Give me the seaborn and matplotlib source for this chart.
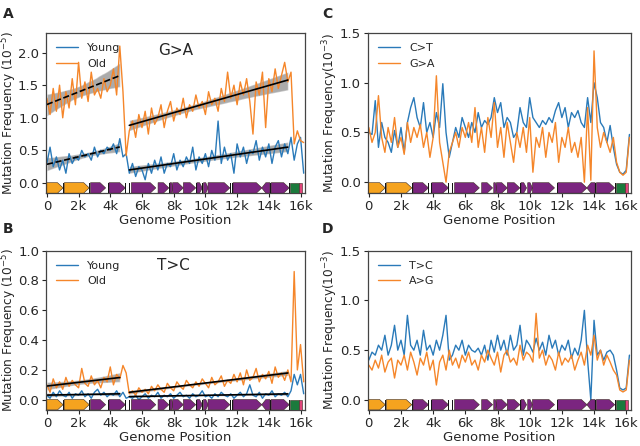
import numpy as np
import pandas as pd
import seaborn as sns
import matplotlib
matplotlib.use("Agg")
import matplotlib.pyplot as plt
from matplotlib.patches import Polygon
from matplotlib.transforms import blended_transform_factory

# genome bins (200 bp)
pos = np.arange(82) * 200

# panel A: G>A, 10^-5
ga_young = [0.30, 0.55, 0.25, 0.40, 0.20, 0.35, 0.15, 0.45, 0.30, 0.40,
            0.35, 0.50, 0.40, 0.45, 0.35, 0.55, 0.40, 0.50, 0.45, 0.55,
            0.50, 0.60, 0.45, 0.68, 0.40, 0.45, 0.15, 0.30, 0.10, 0.25,
            0.20, 0.05, 0.30, 0.15, 0.35, 0.20, 0.40, 0.15, 0.30, 0.25,
            0.45, 0.20, 0.35, 0.25, 0.40, 0.30, 0.55, 0.20, 0.40, 0.30,
            0.45, 0.25, 0.50, 0.35, 0.95, 0.30, 0.55, 0.35, 0.45, 0.15,
            0.60, 0.40, 0.55, 0.30, 0.50, 0.45, 0.65, 0.35, 0.55, 0.40,
            0.60, 0.30, 0.55, 0.65, 0.40, 0.60, 0.45, 0.70, 0.35, 0.60,
            0.70, 0.15]
ga_old = [1.30, 1.05, 1.45, 1.10, 1.50, 1.00, 1.40, 1.15, 1.60, 1.20,
          1.85, 1.30, 1.55, 1.25, 1.70, 1.35, 1.45, 1.30, 1.60, 1.40,
          1.50, 1.75, 1.35, 2.10, 1.40, 0.42, 0.80, 0.95, 0.70, 1.05,
          0.85, 1.10, 0.75, 1.15, 0.90, 1.00, 1.20, 0.85, 1.10, 1.25,
          0.95, 1.15, 1.05, 1.30, 1.00, 1.20, 1.10, 1.35, 1.15, 1.25,
          1.05, 1.40, 1.20, 1.30, 1.10, 1.45, 1.25, 1.70, 1.30, 1.50,
          1.20, 1.55, 1.35, 1.60, 1.25, 0.75, 1.55, 1.35, 1.70, 0.85,
          1.60, 1.40, 1.75, 1.45, 1.65, 1.85, 1.55, 1.70, 0.60, 0.80,
          0.65, 0.62]

# panel B: T>C, 10^-5
tc_young = [0.03, 0.01, 0.05, 0.02, 0.06, 0.03, 0.02, 0.05, 0.01, 0.04,
            0.03, 0.06, 0.02, 0.04, 0.01, 0.05, 0.07, 0.03, 0.05, 0.02,
            0.04, 0.03, 0.06, 0.02, 0.05, 0.01, 0.02, 0.01, 0.03, 0.00,
            0.02, 0.04, 0.01, 0.03, 0.02, 0.05, 0.01, 0.03, 0.02, 0.04,
            0.01, 0.03, 0.05, 0.02, 0.03, 0.01, 0.04, 0.02, 0.03, 0.06,
            0.02, 0.03, 0.01, 0.04, 0.02, 0.05, 0.03, 0.02, 0.04, 0.01,
            0.03, 0.05, 0.02, 0.04, 0.10, 0.03, 0.02, 0.05, 0.01, 0.04,
            0.03, 0.06, 0.02, 0.04, 0.03, 0.05, 0.02, 0.06, 0.17, 0.10,
            0.17, 0.04]
tc_old = [0.10, 0.05, 0.14, 0.08, 0.12, 0.07, 0.15, 0.09, 0.13, 0.10,
          0.08, 0.21, 0.11, 0.09, 0.16, 0.10, 0.13, 0.08, 0.15, 0.12,
          0.22, 0.10, 0.17, 0.14, 0.23, 0.18, 0.04, 0.06, 0.03, 0.08,
          0.05, 0.07, 0.04, 0.09, 0.06, 0.10, 0.07, 0.05, 0.11, 0.08,
          0.06, 0.12, 0.09, 0.07, 0.13, 0.10, 0.08, 0.12, 0.09, 0.14,
          0.11, 0.08, 0.15, 0.10, 0.12, 0.16, 0.09, 0.13, 0.11, 0.17,
          0.12, 0.18, 0.10, 0.20, 0.13, 0.15, 0.21, 0.12, 0.17, 0.14,
          0.19, 0.11, 0.22, 0.15, 0.18, 0.13, 0.20, 0.12, 0.86, 0.20,
          0.37, 0.12]

# panel C: 10^-3
c_t = [0.50, 0.48, 0.82, 0.35, 0.60, 0.45, 0.40, 0.30, 0.52, 0.35,
       0.55, 0.30, 0.60, 0.75, 0.85, 0.65, 0.55, 0.80, 0.50, 0.60,
       0.45, 0.70, 0.55, 0.99, 0.50, 0.25, 0.40, 0.55, 0.45, 0.65,
       0.55, 0.45, 0.60, 0.50, 0.70, 0.55, 0.62, 0.58, 0.65, 0.85,
       0.70, 0.80, 0.55, 0.65, 0.60, 0.45, 0.50, 0.75, 0.60, 0.55,
       0.85, 0.65, 0.60, 0.55, 0.62, 0.58, 0.65, 0.60, 0.72, 0.80,
       0.65, 0.75, 0.55, 0.70, 0.65, 0.72, 0.60, 0.55, 0.85, 0.60,
       1.00, 0.85, 0.60, 0.55, 0.40, 0.57, 0.35, 0.18, 0.10, 0.08,
       0.12, 0.48]
g_a = [0.55, 0.40, 0.50, 0.87, 0.45, 0.30, 0.55, 0.40, 0.65, 0.35,
       0.45, 0.28, 0.60, 0.40, 0.55, 0.45, 0.58, 0.35, 0.50, 0.25,
       0.45, 1.07, 0.40, 0.20, 0.00, 0.30, 0.40, 0.50, 0.35, 0.55,
       0.45, 0.60, 0.40, 0.75, 0.35, 0.55, 0.30, 0.65, 0.45, 0.80,
       0.35, 0.55, 0.25, 0.60, 0.40, 0.20, 0.50, 0.35, 0.55, 0.30,
       0.65, 0.10, 0.45, 0.35, 0.55, 0.25, 0.50, 0.40, 0.60, 0.20,
       0.45, 0.35, 0.55, 0.30, 0.40, 0.25, 0.45, 0.00, 0.75, 0.02,
       1.32, 0.55, 0.35, 0.50, 0.40, 0.30, 0.45, 0.20, 0.10, 0.07,
       0.10, 0.45]

# panel D: 10^-3
t_c = [0.40, 0.48, 0.45, 0.55, 0.50, 0.65, 0.45, 0.55, 0.75, 0.50,
       0.60, 0.45, 0.85, 0.55, 0.50, 0.60, 0.45, 0.70, 0.50, 0.55,
       0.45, 0.60, 0.50, 0.65, 0.85, 0.40, 0.45, 0.55, 0.50, 0.60,
       0.45, 0.55, 0.50, 0.48, 0.52, 0.45, 0.55, 0.40, 0.60, 0.48,
       0.65, 0.50, 0.60, 0.45, 0.65, 0.50, 0.55, 0.75, 0.45, 0.60,
       0.55, 0.48, 0.62, 0.50, 0.58, 0.45, 0.65, 0.52, 0.60, 0.45,
       0.55, 0.50, 0.60, 0.42, 0.52, 0.45, 0.60, 0.90, 0.40, 0.00,
       0.80, 0.45, 0.50, 0.40, 0.48, 0.50, 0.45, 0.30, 0.12, 0.10,
       0.12, 0.45]
a_g = [0.35, 0.30, 0.40, 0.32, 0.45, 0.28, 0.38, 0.42, 0.22, 0.40,
       0.35, 0.45, 0.30, 0.48, 0.38, 0.25, 0.42, 0.35, 0.48, 0.30,
       0.40, 0.15, 0.38, 0.45, 0.30, 0.50, 0.35, 0.42, 0.32, 0.45,
       0.38, 0.48, 0.35, 0.40, 0.30, 0.45, 0.38, 0.50, 0.42, 0.35,
       0.48, 0.28, 0.45, 0.50, 0.38, 0.42, 0.35, 0.55, 0.40, 0.48,
       0.45, 0.38, 0.87, 0.42, 0.50, 0.35, 0.45, 0.40, 0.30, 0.48,
       0.35, 0.42, 0.38, 0.45, 0.30, 0.40, 0.48, 0.35, 0.55, 0.45,
       0.65, 0.40, 0.50, 0.35, 0.45, 0.38, 0.30, 0.25, 0.10, 0.08,
       0.10, 0.40]

# mitochondrial gene map
gene_start = [0, 1094, 2751, 3914, 5328, 7013, 7766, 7927, 8607, 9459, 9877, 10167, 11742, 13552, 14145, 15350, 15920]
gene_end = [1024, 2675, 3707, 4951, 6872, 7696, 7969, 8607, 9390, 9806, 10173, 11544, 13565, 14070, 15288, 15900, 16100]
gene_strand = [1, 1, 1, 1, 1, 1, 1, 1, 1, 1, 1, 1, 1, -1, 1, 0, 0]
gene_kind = ["rRNA", "rRNA"] + ["CDS"] * 13 + ["Dloop", "other"]
trna_start = [1025, 2676, 3707, 3845, 4952, 5089, 5192, 7700, 9391, 9808, 11546, 11674, 14071, 15289]
trna_end = [1070, 2740, 3760, 3900, 5000, 5140, 5240, 7750, 9440, 9860, 11600, 11742, 14125, 15340]
oril = (5160, 5200)
kind_color = {"rRNA": "#f5a31f", "CDS": "#7b2580", "Dloop": "#1b7a3c", "other": "#e0457b"}

sns.set_style("ticks")
plt.rcParams["font.family"] = ["DejaVu Sans"]


def draw_genes(ax):
    trans = blended_transform_factory(ax.transData, ax.transAxes)
    h = 0.065
    for s, e, st, k in zip(gene_start, gene_end, gene_strand, gene_kind):
        tip = min(350, (e - s) * 0.5)
        if st == 1:
            pts = [(s, 0), (e - tip, 0), (e, h / 2), (e - tip, h), (s, h)]
        elif st == -1:
            pts = [(s + tip, 0), (e, 0), (e, h), (s + tip, h), (s, h / 2)]
        else:
            pts = [(s, 0), (e, 0), (e, h), (s, h)]
        ax.add_patch(Polygon(pts, closed=True, transform=trans, fc=kind_color[k],
                             ec="#3a2a20", lw=0.4, zorder=5))
    for s, e in zip(trna_start, trna_end):
        ax.add_patch(Polygon([(s, 0), (e, 0), (e, h), (s, h)], closed=True,
                             transform=trans, fc="#151515", ec="none", zorder=6))
    ax.add_patch(Polygon([(oril[0], 0), (oril[1], 0), (oril[1], h), (oril[0], h)],
                         closed=True, transform=trans, fc="#e8d83a", ec="none", zorder=7))


def fit_segments(ax, y, dashed_first):
    x = pos
    y = np.asarray(y)
    segs = [(x <= 4600), (x >= 5200) & (x <= 15200)]
    for i, m in enumerate(segs):
        ls = "--" if (dashed_first and i == 0) else "-"
        n0 = len(ax.collections)
        sns.regplot(x=x[m], y=y[m], scatter=False, ci=95, seed=0, color="k",
                    line_kws=dict(lw=1.2, ls=ls), ax=ax)
        for c in ax.collections[n0:]:
            c.set_alpha(0.33)


def style_axis(ax, ylim, yticks, ylabel, lx):
    ax.set_xlim(-50, 16300)
    ax.set_ylim(*ylim)
    ax.set_yticks(yticks)
    ax.set_xticks(np.arange(0, 16001, 2000))
    ax.set_xticklabels(["0"] + [f"{k}k" for k in range(2, 17, 2)])
    ax.set_xlabel("Genome Position", fontsize=9.5, labelpad=1)
    ax.set_ylabel(ylabel, fontsize=8.7)
    ax.yaxis.set_label_coords(lx, 0.5)
    ax.tick_params(labelsize=9.5, length=3, pad=2)
    for sp in ax.spines.values():
        sp.set_color("#444444")
        sp.set_linewidth(0.9)


blue, orange = "#2a7ab9", "#f5862a"
fig = plt.figure(figsize=(6.4, 4.46), dpi=100)
axA = fig.add_axes([0.072, 0.567, 0.405, 0.359])
axC = fig.add_axes([0.575, 0.567, 0.411, 0.359])
axB = fig.add_axes([0.072, 0.081, 0.405, 0.357])
axD = fig.add_axes([0.575, 0.081, 0.411, 0.357])

# A
sns.lineplot(x=pos, y=ga_young, color=blue, lw=1.0, label="Young", ax=axA)
sns.lineplot(x=pos, y=ga_old, color=orange, lw=1.0, label="Old", ax=axA)
fit_segments(axA, ga_old, True)
fit_segments(axA, ga_young, True)
axA.text(0.5, 0.89, "G>A", transform=axA.transAxes, ha="center", va="center", fontsize=11)
style_axis(axA, (-0.155, 2.3), [0, 0.5, 1.0, 1.5, 2.0], "Mutation Frequency (10$^{-5}$)", -0.104)

# B
sns.lineplot(x=pos, y=tc_young, color=blue, lw=1.0, label="Young", ax=axB)
sns.lineplot(x=pos, y=tc_old, color=orange, lw=1.0, label="Old", ax=axB)
fit_segments(axB, tc_old, False)
fit_segments(axB, tc_young, False)
axB.text(0.49, 0.905, "T>C", transform=axB.transAxes, ha="center", va="center", fontsize=11)
style_axis(axB, (-0.068, 1.0), [0, 0.2, 0.4, 0.6, 0.8, 1.0], "Mutation Frequency (10$^{-5}$)", -0.104)

# C
sns.lineplot(x=pos, y=c_t, color=blue, lw=1.0, label="C>T", ax=axC)
sns.lineplot(x=pos, y=g_a, color=orange, lw=1.0, label="G>A", ax=axC)
style_axis(axC, (-0.11, 1.5), [0, 0.5, 1.0, 1.5], "Mutation Frequency(10$^{-3}$)", -0.105)

# D
sns.lineplot(x=pos, y=t_c, color=blue, lw=1.0, label="T>C", ax=axD)
sns.lineplot(x=pos, y=a_g, color=orange, lw=1.0, label="A>G", ax=axD)
style_axis(axD, (-0.10, 1.5), [0, 0.5, 1.0, 1.5], "Mutation Frequency(10$^{-3}$)", -0.105)

for ax in (axA, axB, axC, axD):
    draw_genes(ax)
    h, l = ax.get_legend_handles_labels()
    ax.legend(h[:2], l[:2], loc="upper left", frameon=False, fontsize=8)

for t, x, y in [("A", 0.005, 0.985), ("C", 0.503, 0.985), ("B", 0.005, 0.503), ("D", 0.503, 0.503)]:
    fig.text(x, y, t, fontsize=10, fontweight="bold", va="top", ha="left")

fig.savefig("out.png", dpi=100)
